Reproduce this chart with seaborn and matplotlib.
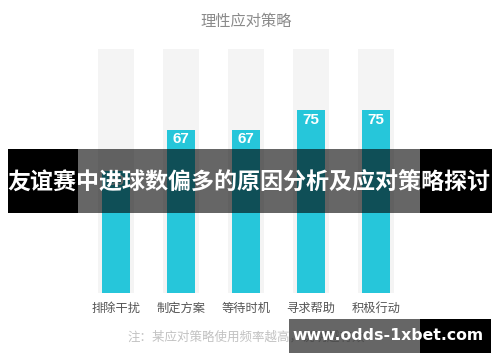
import matplotlib
matplotlib.use("Agg")
import matplotlib.pyplot as plt
import seaborn as sns
import pandas as pd
from matplotlib.patches import Rectangle

categories = ["排除干扰", "制定方案", "等待时机", "寻求帮助", "积极行动"]
values = [50, 67, 67, 75, 75]
max_value = 100
title = "理性应对策略"
note = "注：某应对策略使用频率越高，说明越有效"
overlay_title = "友谊赛中进球数偏多的原因分析及应对策略探讨"
banner = "www.odds-1xbet.com"

sns.set_theme(style="white")
plt.rcParams['font.family'] = ['Noto Sans CJK SC', 'DejaVu Sans']

W, H = 500, 362
fig = plt.figure(figsize=(5, 3.62), dpi=100)
fig.patch.set_facecolor("white")

# axes: value 0 at y=293px, 100 at y=49px; categories centered at 116 + 65*i
ax = fig.add_axes([0, (H - 293) / H, 1, 244 / H])
df = pd.DataFrame({"cat": categories, "val": values, "bg": [max_value] * len(categories)})

sns.barplot(data=df, x="cat", y="bg", color="#f4f4f4", width=0.54, ax=ax,
            saturation=1, zorder=1, linewidth=0)
sns.barplot(data=df, x="cat", y="val", color="#26c6da", width=0.43, ax=ax,
            saturation=1, zorder=2, linewidth=0)
ax.set_xlim(-116 / 65, (W - 116) / 65)
ax.set_ylim(0, max_value)
ax.set_xlabel("")
ax.set_ylabel("")
ax.set_yticks([])
for s in ax.spines.values():
    s.set_visible(False)
ax.tick_params(axis="x", length=0, pad=6.5, labelsize=8.8, labelcolor="#555555")
ax.set_facecolor("none")

for i, v in enumerate(values):
    ax.text(i, v - 1.2, str(v), ha="center", va="top", color="white",
            fontsize=11, fontweight="bold", family=["Liberation Sans", "DejaVu Sans"],
            zorder=3)

fig.text(246 / W, 1 - 21.5 / H, title, ha="center", va="center",
         fontsize=11, color="#8a8a8a")
fig.text(246 / W, 1 - 337 / H, note, ha="center", va="center",
         fontsize=9, color="#c2c2c2")

def rect(x0, y0, x1, y1, color, alpha=1.0):
    fig.add_artist(Rectangle((x0 / W, 1 - y1 / H), (x1 - x0) / W, (y1 - y0) / H,
                             transform=fig.transFigure, facecolor=color,
                             edgecolor="none", alpha=alpha, zorder=10))

# overlay band
rect(8, 149, 78, 213, "black")
rect(420, 149, 492, 213, "black")
rect(78, 149, 420, 213, "black", alpha=0.6)
fig.text(249 / W, 1 - 183 / H, overlay_title, ha="center", va="center",
         fontsize=16.6, fontweight="bold", color="white", zorder=11)

# bottom banner
rect(289, 319, 420, 353, "black", alpha=0.6)
rect(420, 319, 491, 353, "black")
fig.text(388 / W, 1 - 336 / H, banner, ha="center", va="center",
         fontsize=11.3, fontweight="bold", color="white", zorder=11,
         family=["DejaVu Sans"])

fig.savefig("out.png", dpi=100)
